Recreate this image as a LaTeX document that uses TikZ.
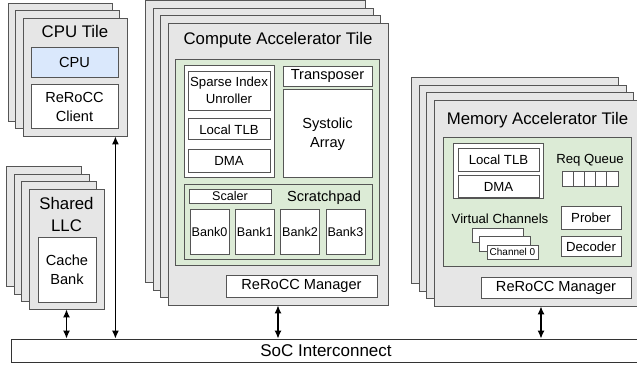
\documentclass[tikz,border=0pt]{standalone}
\usepackage{fontspec}
\setmainfont{Liberation Sans}
\usepackage{tikz}
\usetikzlibrary{arrows.meta,positioning}

\definecolor{tilegray}{HTML}{E6E6E6}
\definecolor{edgegray}{HTML}{555555}
\definecolor{unitgreen}{HTML}{DCEBD6}
\definecolor{unitblue}{HTML}{DAE8FC}

\tikzset{%
	card/.style     = {draw=edgegray, fill=tilegray, line width=0.8pt}, % stacked copies
	tile/.style     = {card, rectangle, inner sep=0pt},
	region/.style   = {draw=edgegray, fill=unitgreen, rectangle, inner sep=0pt, line width=0.8pt},
	holder/.style   = {draw=edgegray, fill=white, rectangle, inner sep=0pt, line width=0.8pt},
	unit/.style     = {holder, inner sep=1pt, align=center, font=\fontsize{13.2}{17}\selectfont},
	bigunit/.style  = {unit, font=\fontsize{14.6}{19}\selectfont},
	cell/.style     = {unit, font=\fontsize{12.6}{15}\selectfont},
	slot/.style     = {holder, minimum width=11.2pt, minimum height=15pt},
	chan/.style     = {holder, minimum width=51pt, minimum height=14.5pt, font=\fontsize{10}{12}\selectfont},
	note/.style     = {inner sep=0pt, font=\fontsize{13.2}{17}\selectfont},
	bignote/.style  = {inner sep=0pt, font=\fontsize{14.6}{19}\selectfont},
	tiletitle/.style= {inner sep=0pt, align=center, font=\fontsize{16.8}{22}\selectfont},
	bus/.style      = {draw=black!80, fill=white, rectangle, inner sep=0pt, line width=0.8pt, font=\fontsize{17}{20}\selectfont},
	link/.style     = {<->, >={Latex[length=8pt,width=7pt]}, line width=1.3pt},
}

\begin{document}
\begin{tikzpicture}[x=1pt,y=-1pt]
	\useasboundingbox (0,0) rectangle (637,366);

	% CPU tile
	\foreach \k in {2,1}
		\draw[card] (23-7.5*\k,18-7.5*\k) rectangle ++(104,118);
	\node [tile, minimum width=104pt, minimum height=118pt] (cputile) at (75,77) {};
	\node [tiletitle, anchor=base] at (75,38) {CPU Tile};
	\node [bigunit, fill=unitblue, minimum width=87pt, minimum height=30pt] (cpu) at (74.5,62) {CPU};
	\node [bigunit, minimum width=87pt, minimum height=44pt] (client) [below=7pt of cpu] {ReRoCC\\Client};

	% shared LLC
	\foreach \k in {3,2,1}
		\draw[card] (29-7.5*\k,189-7.5*\k) rectangle ++(75,120);
	\node [tile, minimum width=75pt, minimum height=120pt] (llctile) at (66.5,249) {};
	\node [tiletitle] at (66.5,214) {Shared\\LLC};
	\node [bigunit, minimum width=58pt, minimum height=65pt] (cachebank) at (67,269.5) {Cache\\Bank};

	% compute accelerator
	\foreach \k in {3,2,1}
		\draw[card] (168-7.5*\k,23-7.5*\k) rectangle ++(220,282);
	\node [tile, minimum width=220pt, minimum height=282pt] (cmptile) at (278,164) {};
	\node [tiletitle, anchor=base] at (278,45) {Compute Accelerator Tile};
	\node [region, minimum width=204pt, minimum height=206pt] (cmpcore) at (277,162) {};
	\node [holder, minimum width=90pt, minimum height=112pt] (frontend) at (229,121) {};
	\node [unit, minimum width=82pt, minimum height=39pt] (unroll) at (229,90.5) {Sparse Index\\Unroller};
	\node [unit, minimum width=82pt, minimum height=21pt] (ctlb) [below=8pt of unroll] {Local TLB};
	\node [unit, minimum width=82pt, minimum height=23pt] (cdma) [below=9pt of ctlb] {DMA};
	\node [bigunit, minimum width=89pt, minimum height=20pt] (transp) at (327.5,76) {Transposer};
	\node [bigunit, minimum width=89pt, minimum height=88pt] (systolic) [below=3pt of transp] {Systolic\\Array};
	\node [region, minimum width=188pt, minimum height=75pt] (spad) at (278,221.5) {};
	\node [cell, minimum width=82pt, minimum height=14pt] (scaler) at (230,196) {Scaler};
	\node [bignote, anchor=base] at (324,201.2) {Scratchpad};
	\foreach \i in {0,...,3}
		\node [cell, minimum width=39pt, minimum height=45pt] (bank\i) at (209.5+45.3*\i,231.5) {Bank\i};
	\node [bigunit, minimum width=151pt, minimum height=22pt] (cmgr) at (301.5,286) {ReRoCC Manager};

	% memory accelerator
	\foreach \k in {3,2,1}
		\draw[card] (434-7.5*\k,100-7.5*\k) rectangle ++(207,206);
	\node [tile, minimum width=207pt, minimum height=206pt] (memtile) at (537.5,203) {};
	\node [tiletitle, anchor=base] at (537.5,124.5) {Memory Accelerator Tile};
	\node [region, minimum width=188pt, minimum height=129pt] (memcore) at (537,201.5) {};
	\node [holder, minimum width=90pt, minimum height=55pt] (xlate) at (498,170.5) {};
	\node [unit, minimum width=81pt, minimum height=23pt] (mtlb) at (498.5,159.5) {Local TLB};
	\node [unit, minimum width=81pt, minimum height=22pt] (mdma) [below=4pt of mtlb] {DMA};
	\node [note, anchor=base] at (590,163.7) {Req Queue};
	\foreach \i in {0,...,4}
		\node [slot] (slot\i) at (567.6+11.2*\i,178.5) {};
	\node [note, anchor=base] at (500,223.2) {Virtual Channels};
	\foreach \k in {2,1}
		\draw[holder] (487-7.5*\k,245-8.5*\k) rectangle ++(51,14.5);
	\node [chan] (chan0) at (512.5,252.25) {Channel 0};
	\node [unit, minimum width=60pt, minimum height=23pt] (prober) at (591,217.5) {Prober};
	\node [unit, minimum width=60pt, minimum height=20pt] (decoder) [below=7pt of prober] {Decoder};
	\node [bigunit, minimum width=150pt, minimum height=21pt] (mmgr) at (556,287.5) {ReRoCC Manager};

	% interconnect and ports
	\node [bus, minimum width=630pt, minimum height=23pt] (noc) at (326,350.5) {SoC Interconnect};
	\coordinate (cpuport) at ([xshift=-12pt]cputile.south east);
	\coordinate (memport) at ([xshift=3.5pt]memtile.south);
	\draw [link] (cpuport) -- (cpuport |- noc.north);
	\draw [link] (llctile.south) -- (llctile.south |- noc.north);
	\draw [link] (cmptile.south) -- (cmptile.south |- noc.north);
	\draw [link] (memport) -- (memport |- noc.north);
\end{tikzpicture}
\end{document}
